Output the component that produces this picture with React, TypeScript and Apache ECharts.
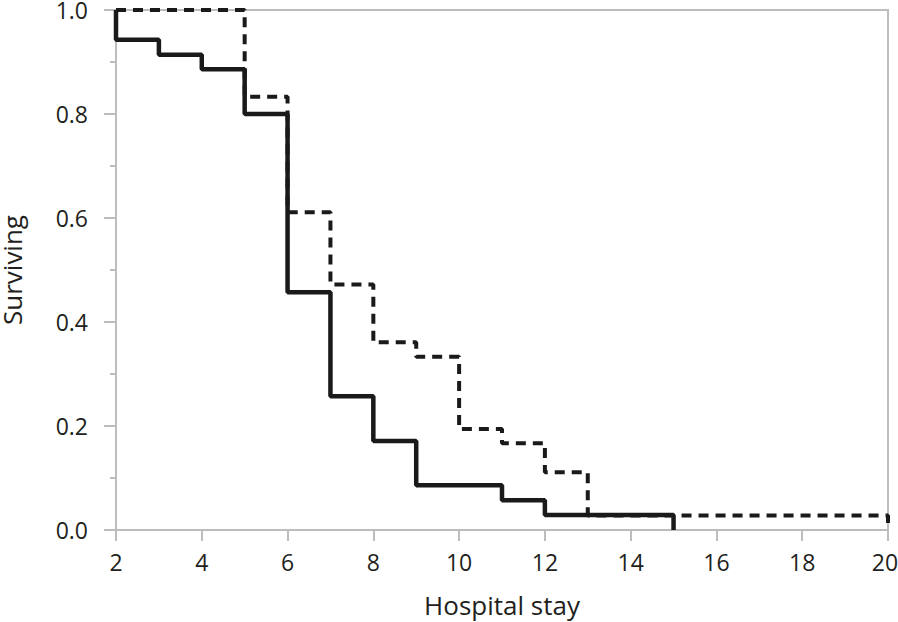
import React, { useEffect, useRef } from "react";
import * as echarts from "echarts";

// Kaplan-Meier style step data: [time, survival after the event at that time]
const solidTimes = [2, 2, 3, 4, 5, 6, 7, 8, 9, 11, 12, 15];
const solidSurv = [1.0, 0.943, 0.914, 0.886, 0.8, 0.457, 0.257, 0.171, 0.086, 0.057, 0.029, 0.0];

const dashedTimes = [2, 5, 6, 7, 8, 9, 10, 11, 12, 13, 20, 20];
const dashedSurv = [1.0, 0.833, 0.611, 0.472, 0.361, 0.333, 0.194, 0.167, 0.111, 0.028, 0.028, 0.0];

const xTicks = [2, 4, 6, 8, 10, 12, 14, 16, 18, 20];
const yTicks = [0, 0.2, 0.4, 0.6, 0.8, 1.0];

const FONT = "'Open Sans', 'Noto Sans', sans-serif";
const AXIS_GREY = "#bdbdbd";
const TEXT = "#231f20";

export default function App() {
  const ref = useRef<HTMLDivElement>(null);
  useEffect(() => {
    if (!ref.current) return;
    const chart = echarts.init(ref.current, undefined, { renderer: "svg" });
    const solid = solidTimes.map((t, i) => [t, solidSurv[i]]);
    const dashed = dashedTimes.map((t, i) => [t, dashedSurv[i]]);
    const xMax = xTicks[xTicks.length - 1];
    chart.setOption({
      animation: false,
      backgroundColor: "#ffffff",
      grid: {
        left: 116,
        right: 10,
        top: 10,
        bottom: 92,
        containLabel: false,
        outerBoundsMode: "none",
        show: true,
        borderColor: AXIS_GREY,
        borderWidth: 2,
        backgroundColor: "transparent",
      },
      xAxis: {
        type: "value",
        min: xTicks[0],
        max: xMax,
        interval: 2,
        name: "Hospital stay",
        nameLocation: "middle",
        nameGap: 62,
        nameTextStyle: { fontFamily: FONT, fontSize: 26, color: TEXT },
        axisLine: { show: true, lineStyle: { color: AXIS_GREY, width: 2 } },
        axisTick: { show: true, length: 11, lineStyle: { color: AXIS_GREY, width: 2 } },
        axisLabel: {
          fontFamily: FONT,
          fontSize: 23,
          color: TEXT,
          margin: 20,
          formatter: (v: number) => (v === xMax ? `{e|${v}}` : String(v)),
          rich: {
            e: { fontFamily: FONT, fontSize: 23, color: TEXT, padding: [0, 6, 0, 0] },
          },
        },
        splitLine: { show: false },
      },
      yAxis: {
        type: "value",
        min: yTicks[0],
        max: yTicks[yTicks.length - 1],
        interval: 0.2,
        name: "Surviving",
        nameLocation: "middle",
        nameGap: 91,
        nameRotate: 90,
        nameTextStyle: { fontFamily: FONT, fontSize: 26, color: TEXT },
        axisLine: { show: true, lineStyle: { color: AXIS_GREY, width: 2 } },
        axisTick: { show: true, length: 12, lineStyle: { color: AXIS_GREY, width: 2 } },
        minorTick: { show: true, splitNumber: 2, length: 6, lineStyle: { color: AXIS_GREY, width: 2 } },
        axisLabel: {
          fontFamily: FONT,
          fontSize: 23,
          color: TEXT,
          margin: 28,
          formatter: (v: number) => v.toFixed(1),
        },
        splitLine: { show: false },
      },
      series: [
        {
          type: "line",
          data: dashed,
          step: "end",
          symbol: "none",
          lineStyle: { color: "#1a1a1a", width: 4, type: [10, 7] },
          z: 2,
        },
        {
          type: "line",
          data: solid,
          step: "end",
          symbol: "none",
          lineStyle: { color: "#1a1a1a", width: 4.5 },
          z: 3,
        },
      ],
    });
    return () => chart.dispose();
  }, []);
  return <div ref={ref} style={{ width: 898, height: 622, position: "absolute", left: 0, top: 0 }} />;
}
